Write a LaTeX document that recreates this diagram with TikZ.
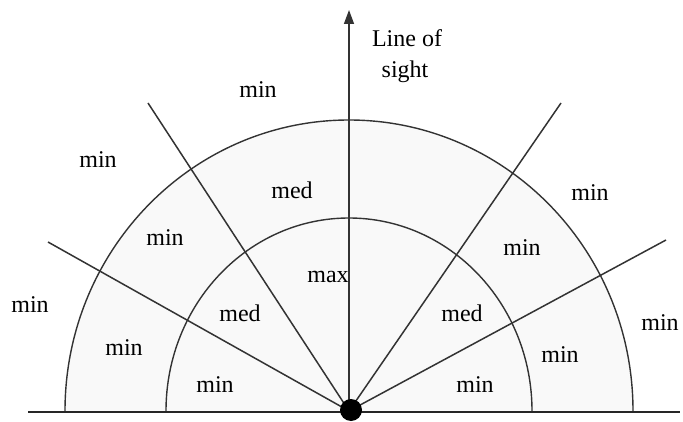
\documentclass[tikz,border=0pt]{standalone}
\usepackage{fontspec}
\setmainfont{Liberation Serif}
\usetikzlibrary{arrows.meta}
\begin{document}
\begin{tikzpicture}[x=1pt,y=1pt,
  lbl/.style={font=\fontsize{24}{28}\selectfont, inner sep=0pt},
  ray/.style={draw=black!80, line width=1.5pt},
  rim/.style={draw=black!80, line width=1.4pt}]
\useasboundingbox (0,0) rectangle (683,421);
\coordinate (c) at (349,10);
% fills and arcs
\fill[gray!5] (c) ++(284,0) arc[start angle=0,end angle=180,x radius=284,y radius=291] -- cycle;
\draw[rim] (c) ++(284,0) arc[start angle=0,end angle=180,x radius=284,y radius=291];
\draw[rim] (c) ++(183,0) arc[start angle=0,end angle=180,x radius=183,y radius=193];
% rays
\coordinate (lu) at (148,318);
\coordinate (ll) at (48,179);
\coordinate (ru) at (561,318);
\coordinate (rl) at (666,181);
\coordinate (top) at (349,411);
\coordinate (bl) at (28,9);
\coordinate (br) at (680,9);
\draw[ray] (c) -- (lu);
\draw[ray] (c) -- (ll);
\draw[ray] (c) -- (ru);
\draw[ray] (c) -- (rl);
\draw[ray, -{Triangle[length=14pt,width=10pt]}] (c) -- (top);
\draw[black!85, line width=2pt] (bl) -- (br);
\node[circle, fill=black, minimum size=22pt, inner sep=0pt] (dot) at (351,11) {};
% labels
\node[lbl] (l1) at (258,331) {min};
\node[lbl] (l2) at (98,261) {min};
\node[lbl] (l3) at (292,231) {med};
\node[lbl] (l4) at (590,228) {min};
\node[lbl] (l5) at (165,183) {min};
\node[lbl] (l6) at (522,173) {min};
\node[lbl] (l7) at (328,144) {max};
\node[lbl] (l8) at (30,116) {min};
\node[lbl] (l9) at (240,108) {med};
\node[lbl] (l10) at (462,108) {med};
\node[lbl] (l11) at (660,98) {min};
\node[lbl] (l12) at (124,73) {min};
\node[lbl] (l13) at (560,66) {min};
\node[lbl] (l14) at (215,36) {min};
\node[lbl] (l15) at (475,36) {min};
\node[lbl] (los1) at (407,383) {Line of};
\node[lbl] (los2) at (405,349) {sight};
\end{tikzpicture}
\end{document}
